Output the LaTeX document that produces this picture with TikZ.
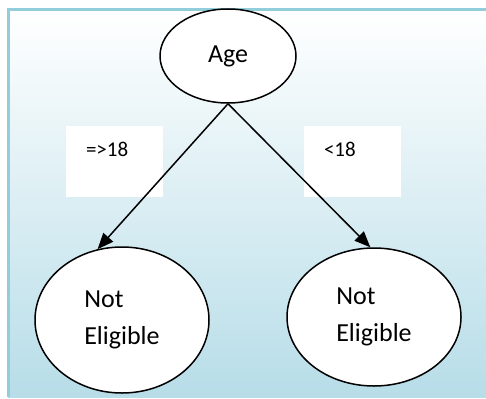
\documentclass[tikz,border=0pt]{standalone}
\usepackage{fontspec}
\setmainfont{Carlito}
\usetikzlibrary{shapes.geometric,arrows.meta}
\definecolor{frameblue}{RGB}{146,205,220}
\definecolor{bgblue}{RGB}{183,221,232}
\tikzset{
  oval/.style={ellipse, draw, fill=white, line width=1.5pt,
    inner sep=0pt, align=left, font=\fontsize{26}{37}\selectfont},
  condbox/.style={fill=white, inner xsep=20pt, inner ysep=0pt,
    text width=57pt, text height=31pt, text depth=40pt, align=left,
    font=\fontsize{21}{25}\selectfont},
  branch/.style={-{Triangle[length=16pt,width=13pt]}, line width=1.5pt}
}
\begin{document}
\begin{tikzpicture}[x=1pt, y=-1pt]
            \useasboundingbox (0,0) rectangle (486,398);
            % Sfondo
            \begin{scope}
                \clip (0,0) rectangle (486,398);
                \shade[top color=white, bottom color=bgblue] (8,10) rectangle (520,397);
                \draw[frameblue, line width=2.5pt] (8.5,397) -- (8.5,9.5) -- (520,9.5);
            \end{scope}

            % Nodi
            \node[oval, minimum width=136pt, minimum height=94pt] (age) at (228,56) {Age};
            \node[oval, minimum width=174pt, minimum height=146pt] (left) at (122,320) {Not\\Eligible};
            \node[oval, minimum width=174pt, minimum height=138pt] (right) at (374,317) {Not\\Eligible};

            % Condizioni
            \node[condbox] (geq) at (114.5,161.5) {=>18};
            \node[condbox] (lt) at (352.5,161.5) {<18};

            % Rami
            \draw[branch] (age.south) -- (left.109);
            \draw[branch] (age.south) -- (right.93);
\end{tikzpicture}
\end{document}
